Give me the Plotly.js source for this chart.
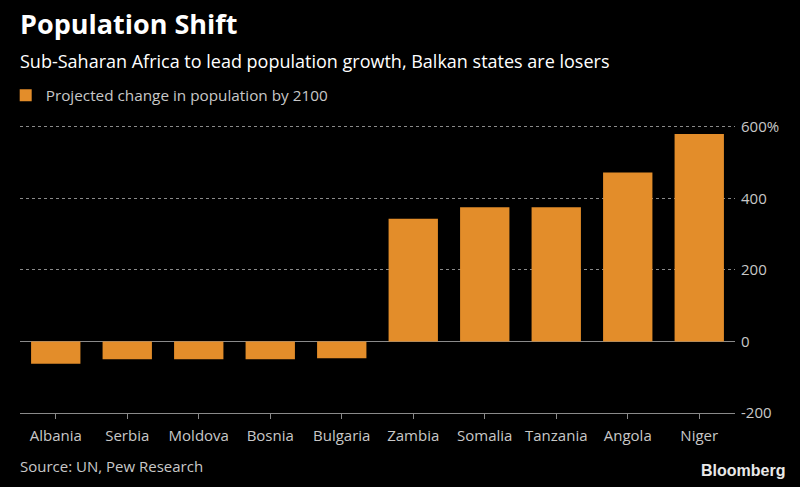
<!DOCTYPE html>
<html>
<head>
<meta charset="utf-8">
<script src="https://cdn.plot.ly/plotly-3.0.1.min.js"></script>
<style>html,body{margin:0;padding:0;background:#000;}#chart{width:800px;height:487px;}</style>
</head>
<body>
<div id="chart"></div>
<script>
const countries = ["Albania","Serbia","Moldova","Bosnia","Bulgaria","Zambia","Somalia","Tanzania","Angola","Niger"];
const changePct = [-62, -50, -50, -50, -47, 343, 375, 375, 472, 580];
const yTickVals = [-200, 0, 200, 400, 600];
const yTickText = ["-200", "0", "200", "400", "600%"];
const seriesName = "Projected change in population by 2100";

const FONT = "Open Sans, Noto Sans, sans-serif";
const ORANGE = "#E38D2A";

const data = [{
  type: "bar",
  x: countries,
  y: changePct,
  name: seriesName,
  marker: {color: ORANGE},
  showlegend: true,
  hoverinfo: "x+y"
}];

const layout = {
  width: 800, height: 487,
  paper_bgcolor: "#000", plot_bgcolor: "#000",
  margin: {l: 20, r: 65, t: 125, b: 74, autoexpand: false},
  bargap: 0.31,
  font: {family: FONT, color: "#c8c8c8", size: 15},
  showlegend: true,
  legend: {
    x: -0.02, xanchor: "left", y: 1.103, yanchor: "middle",
    orientation: "h", bgcolor: "rgba(0,0,0,0)",
    font: {family: FONT, size: 15.3, color: "#c8c8c8"}
  },
  xaxis: {
    type: "category",
    showgrid: false,
    showline: true, linecolor: "#8a8a8a", linewidth: 1,
    ticks: "outside", ticklen: 5, tickcolor: "#8a8a8a",
    ticklabelstandoff: 4,
    tickfont: {family: FONT, size: 15, color: "#c8c8c8"},
    fixedrange: true
  },
  yaxis: {
    side: "right",
    range: [-200, 605],
    tickvals: yTickVals, ticktext: yTickText,
    showgrid: true, gridcolor: "#8a8a8a", griddash: "dot", gridwidth: 1,
    zeroline: true, zerolinecolor: "#8a8a8a", zerolinewidth: 1,
    showline: false, ticks: "",
    ticklabelstandoff: 5,
    tickfont: {family: FONT, size: 15, color: "#c8c8c8"},
    fixedrange: true
  },
  annotations: [
    {text: "<b>Population Shift</b>", xref: "paper", yref: "paper", x: -0.003, y: 1.352,
     xanchor: "left", yanchor: "middle", showarrow: false,
     font: {family: FONT, size: 27, color: "#ffffff"}},
    {text: "Sub-Saharan Africa to lead population growth, Balkan states are losers", xref: "paper", yref: "paper", x: -0.003, y: 1.222,
     xanchor: "left", yanchor: "middle", showarrow: false,
     font: {family: FONT, size: 18, color: "#ffffff"}},
    {text: "Source: UN, Pew Research", xref: "paper", yref: "paper", x: -0.003, y: -0.185,
     xanchor: "left", yanchor: "middle", showarrow: false,
     font: {family: FONT, size: 15, color: "#c8c8c8"}},
    {text: "<b>Bloomberg</b>", xref: "paper", yref: "paper", x: 1.073, y: -0.199,
     xanchor: "right", yanchor: "middle", showarrow: false,
     font: {family: "Liberation Sans, Arial, sans-serif", size: 16, color: "#e8e8e8"}}
  ]
};

Plotly.newPlot("chart", data, layout, {displayModeBar: false, staticPlot: true});
</script>
</body>
</html>
